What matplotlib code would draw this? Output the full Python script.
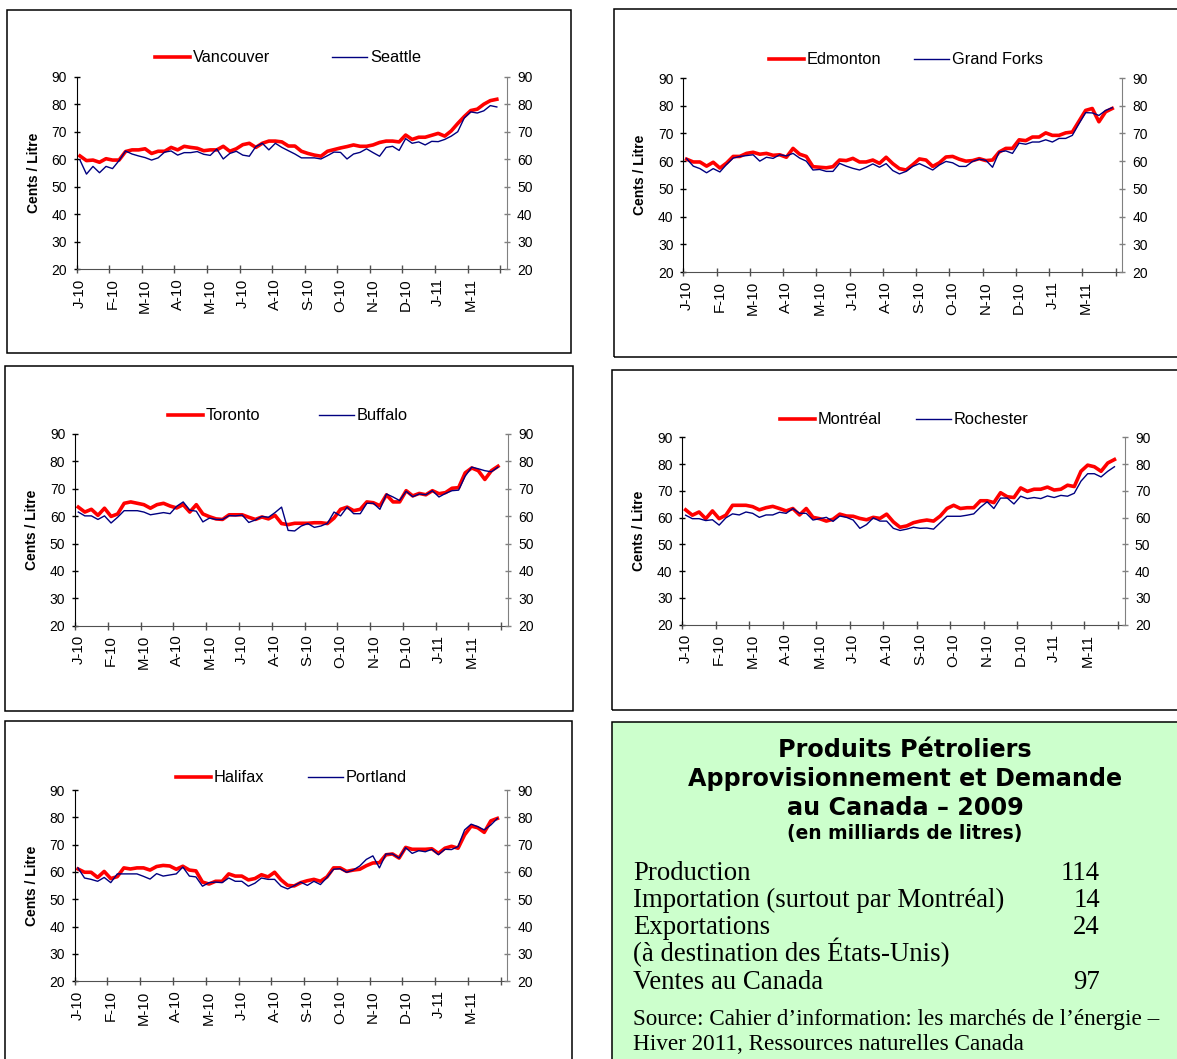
import numpy as np
import matplotlib
matplotlib.use('Agg')
from matplotlib import pyplot as plt
from matplotlib.lines import Line2D
from matplotlib.patches import Rectangle

plt.rcParams['font.family'] = ['Liberation Sans', 'DejaVu Sans']

# weekly prices, cents / litre, Jan 2010 - end of Mar 2011 (65 weeks)
vancouver = [61.2, 59.5, 59.7, 58.9, 60.2, 59.7, 59.7, 62.8, 63.4, 63.4,
             63.8, 62.1, 62.9, 62.9, 64.3, 63.4, 64.7, 64.3, 64.0, 63.1,
             63.4, 63.4, 64.7, 62.9, 63.8, 65.3, 65.8, 64.3, 65.8, 66.6,
             66.6, 66.3, 64.8, 64.8, 62.9, 62.1, 61.5, 61.1, 62.9, 63.5,
             64.1, 64.6, 65.2, 64.7, 64.7, 65.2, 66.1, 66.6, 66.6, 66.3,
             68.8, 67.2, 68.0, 68.0, 68.7, 69.4, 68.4, 70.3, 73.0, 75.5,
             77.7, 78.2, 80.0, 81.3, 81.8]
seattle = [59.7, 54.6, 57.4, 55.1, 57.4, 56.6, 59.5, 63.0, 61.9, 61.2,
           60.6, 59.7, 60.5, 62.6, 63.0, 61.5, 62.4, 62.4, 62.8, 61.8,
           61.4, 63.7, 60.1, 62.1, 62.9, 61.5, 61.1, 64.6, 65.8, 63.4,
           65.8, 64.3, 63.1, 61.9, 60.5, 60.5, 60.5, 60.1, 61.3, 62.6,
           62.5, 60.1, 61.9, 62.5, 63.8, 62.4, 61.1, 64.3, 64.7, 63.2,
           67.5, 65.8, 66.3, 65.2, 66.5, 66.4, 67.2, 68.4, 70.0, 75.0,
           77.2, 76.8, 77.6, 79.5, 79.0]
edmonton = [60.7, 59.7, 59.7, 58.2, 59.6, 57.5, 59.3, 61.7, 61.7, 62.8,
            63.2, 62.5, 62.8, 62.1, 62.3, 61.4, 64.6, 62.5, 61.7, 58.0,
            57.8, 57.6, 58.0, 60.4, 60.2, 61.0, 59.7, 59.7, 60.4, 59.2,
            61.4, 59.1, 57.3, 56.8, 58.7, 60.8, 60.4, 58.1, 59.4, 61.5,
            61.7, 60.7, 60.0, 60.2, 60.9, 60.2, 60.4, 63.3, 64.6, 64.6,
            67.7, 67.4, 68.7, 68.7, 70.2, 69.3, 69.3, 70.2, 70.5, 74.4,
            78.3, 79.0, 74.2, 77.8, 79.0]
grand_forks = [60.9, 58.2, 57.3, 55.8, 57.3, 56.1, 58.8, 61.1, 61.7, 62.0,
               62.3, 60.0, 61.4, 61.0, 62.3, 61.9, 62.8, 61.1, 60.0, 56.8,
               57.0, 56.3, 56.3, 59.2, 58.2, 57.4, 56.8, 57.8, 59.0, 57.8,
               59.1, 56.6, 55.4, 56.3, 58.1, 59.1, 58.0, 56.8, 58.6, 59.9,
               59.4, 58.1, 58.1, 59.9, 60.7, 60.3, 57.8, 63.3, 63.7, 62.8,
               66.5, 66.1, 66.9, 66.9, 67.7, 66.9, 68.2, 68.2, 69.3, 73.5,
               77.5, 77.4, 76.5, 78.3, 79.3]
toronto = [63.3, 61.5, 62.5, 60.3, 62.9, 59.9, 60.8, 64.7, 65.2, 64.7,
           64.2, 62.9, 64.2, 64.7, 63.7, 63.0, 64.2, 61.5, 64.2, 60.8,
           59.8, 59.0, 58.8, 60.5, 60.5, 60.5, 59.6, 58.8, 59.7, 59.0,
           60.3, 57.3, 56.9, 57.4, 57.4, 57.4, 57.6, 57.6, 57.3, 59.3,
           62.5, 63.3, 62.0, 62.5, 65.2, 64.9, 63.8, 67.8, 65.2, 65.2,
           69.3, 67.4, 68.3, 67.8, 69.3, 68.2, 68.6, 70.2, 70.4, 75.8,
           77.6, 76.6, 73.4, 76.6, 78.2]
buffalo = [61.5, 60.1, 60.1, 58.8, 60.1, 57.5, 59.6, 62.0, 62.0, 62.0,
           61.5, 60.5, 60.9, 61.3, 60.9, 63.6, 65.2, 62.2, 61.8, 57.9,
           59.3, 58.8, 58.8, 60.2, 60.1, 60.4, 57.7, 58.6, 59.9, 59.6,
           61.3, 63.3, 54.8, 54.6, 56.4, 57.3, 55.9, 56.4, 57.4, 61.5,
           60.1, 63.3, 60.9, 60.9, 64.7, 64.7, 62.5, 68.1, 67.0, 65.7,
           69.1, 67.1, 68.1, 67.8, 69.3, 67.0, 68.3, 69.3, 69.5, 74.6,
           77.9, 77.3, 76.6, 76.2, 77.9]
montreal = [62.9, 60.9, 62.1, 59.6, 62.5, 59.6, 60.9, 64.6, 64.6, 64.6,
            64.1, 62.9, 63.7, 64.2, 63.4, 62.5, 63.4, 61.0, 63.4, 60.1,
            59.6, 58.7, 59.4, 61.3, 60.6, 60.5, 59.7, 59.2, 60.1, 59.7,
            61.3, 58.4, 56.4, 56.9, 58.1, 58.7, 59.1, 58.7, 60.6, 63.4,
            64.6, 63.4, 63.7, 63.7, 66.3, 66.3, 65.6, 69.3, 67.8, 67.5,
            71.1, 69.8, 70.6, 70.6, 71.4, 70.3, 70.6, 72.1, 71.6, 77.3,
            79.6, 79.0, 77.3, 80.4, 81.7]
rochester = [60.9, 59.6, 59.6, 58.9, 59.2, 57.2, 59.9, 61.4, 61.0, 62.1,
             61.6, 60.1, 61.0, 61.0, 62.0, 61.6, 63.4, 61.6, 61.6, 59.1,
             59.6, 60.1, 58.6, 60.6, 60.1, 59.1, 56.0, 57.4, 59.9, 58.7,
             58.7, 56.0, 55.2, 55.7, 56.4, 56.0, 56.1, 55.7, 58.1, 60.5,
             60.5, 60.5, 60.9, 61.4, 63.9, 65.9, 63.4, 67.3, 67.3, 65.1,
             68.0, 67.1, 67.5, 67.1, 68.1, 67.5, 68.3, 68.0, 69.1, 73.6,
             76.4, 76.4, 75.2, 77.3, 79.0]
halifax = [61.1, 59.9, 59.9, 58.0, 60.2, 57.6, 58.3, 61.5, 61.1, 61.5,
           61.5, 60.7, 62.0, 62.4, 62.2, 61.0, 62.1, 60.7, 60.4, 56.3,
           55.6, 56.6, 56.6, 59.3, 58.5, 58.5, 57.1, 57.6, 59.0, 58.2,
           59.9, 57.1, 55.1, 54.9, 56.1, 56.8, 57.3, 56.6, 58.2, 61.5,
           61.5, 60.2, 60.7, 61.0, 62.3, 63.3, 63.4, 66.3, 66.6, 65.1,
           69.0, 68.3, 68.3, 68.3, 68.5, 66.8, 68.7, 69.4, 68.7, 73.6,
           76.8, 76.2, 74.5, 78.7, 79.6]
portland = [61.5, 57.8, 57.3, 56.6, 58.0, 56.1, 59.3, 59.3, 59.3, 59.3,
            58.4, 57.4, 59.4, 58.5, 58.9, 59.3, 61.8, 58.5, 58.2, 54.8,
            56.1, 56.3, 56.1, 57.8, 56.6, 56.6, 54.8, 55.9, 57.8, 57.3,
            57.3, 54.8, 53.8, 55.0, 56.3, 55.1, 56.6, 55.4, 58.0, 61.0,
            61.2, 59.9, 60.7, 62.2, 64.6, 65.9, 61.5, 66.6, 66.6, 65.1,
            68.9, 66.8, 67.8, 67.4, 68.3, 66.3, 68.3, 68.2, 69.3, 75.4,
            77.5, 76.6, 75.4, 77.2, 79.6]

month_labels = ['J-10', 'F-10', 'M-10', 'A-10', 'M-10', 'J-10', 'A-10',
                'S-10', 'O-10', 'N-10', 'D-10', 'J-11', 'M-11']
n_categories = 66   # one empty category at the end of the axis

table_title = ['Produits Pétroliers', 'Approvisionnement et Demande',
               'au Canada – 2009']
table_subtitle = '(en milliards de litres)'
table_rows = ['Production', 'Importation (surtout par Montréal)',
              'Exportations', '(à destination des États-Unis)',
              'Ventes au Canada']
table_values = ['114', '14', '24', '', '97']
table_source = ['Source: Cahier d’information: les marchés de l’énergie –',
                'Hiver 2011, Ressources naturelles Canada']

W, H = 1177, 1059
RED = '#FF0000'
BLUE = '#000080'

# pixel layout: frame box, plot area (left, top, right, bottom),
# legend left/middle point and gap between the two legend entries
panels = [
    (vancouver, seattle, ('Vancouver', 'Seattle'),
     (7, 10, 571, 353), (76.7, 76.7, 506.6, 269.3), (155, 58, 62)),
    (edmonton, grand_forks, ('Edmonton', 'Grand Forks'),
     (614, 9, 1200, 357), (683.3, 78, 1122.2, 272), (769, 60, 32)),
    (toronto, buffalo, ('Toronto', 'Buffalo'),
     (5, 366, 573, 711), (75, 434, 507.8, 625.7), (168, 416, 58)),
    (montreal, rochester, ('Montréal', 'Rochester'),
     (612, 370, 1200, 710), (682.3, 437.3, 1124.5, 624.7), (780, 420, 34)),
    (halifax, portland, ('Halifax', 'Portland'),
     (5, 721, 572, 1075), (74.7, 790, 507.2, 981.3), (176, 778, 43)),
]

LEG_FS = 11.8
LEG_PX = LEG_FS * 100 / 72


def fig_box(x0, y0, x1, y1):
    return [x0 / W, 1 - y1 / H, (x1 - x0) / W, (y1 - y0) / H]


fig = plt.figure(figsize=(W / 100, H / 100), dpi=100)

for canada, us, names, box, area, leg in panels:
    bx = fig_box(*box)
    fig.add_artist(Rectangle((bx[0], bx[1]), bx[2], bx[3], transform=fig.transFigure,
                             fill=False, edgecolor='black', lw=1.1))

    ax = fig.add_axes(fig_box(*area))
    weeks = np.arange(len(canada)) + 0.5
    ax.plot(weeks, canada, color=RED, lw=2.6, solid_joinstyle='round')
    ax.plot(weeks, us, color=BLUE, lw=1.0)
    ax.set_xlim(0, n_categories)
    ax.set_ylim(20, 90)
    ax.set_yticks(range(20, 91, 10))
    ax.set_xticks(np.arange(0, n_categories, 5))
    ax.set_xticklabels([])
    ax.set_xticks(np.arange(0, 5 * len(month_labels), 5) + 0.5, minor=True)
    ax.set_xticklabels(month_labels, minor=True, rotation=90, fontsize=10.8)
    ax.tick_params(axis='x', which='major', direction='inout', length=6,
                   color='#505050', width=1)
    ax.tick_params(axis='x', which='minor', length=0, pad=6.5)
    ax.tick_params(axis='y', direction='inout', length=5, width=1,
                   labelsize=10, pad=4.5)
    for s in ('top', 'right'):
        ax.spines[s].set_visible(False)
    ax.spines['left'].set_color('black')
    ax.spines['bottom'].set_color('#505050')

    ax2 = ax.twinx()
    ax2.set_ylim(20, 90)
    ax2.set_yticks(range(20, 91, 10))
    for s in ('top', 'left', 'bottom'):
        ax2.spines[s].set_visible(False)
    ax2.spines['right'].set_color('#808080')
    ax2.tick_params(axis='y', direction='inout', length=5, width=1,
                    color='#808080', labelsize=10, pad=5)

    fig.text((area[0] - 43) / W, 1 - (area[1] + area[3]) / 2 / H, 'Cents / Litre',
             rotation=90, ha='center', va='center', fontsize=10, weight='bold')

    handles = [Line2D([], [], color=RED, lw=2.6), Line2D([], [], color=BLUE, lw=1.0)]
    fig.legend(handles, names, loc='center left',
               bbox_to_anchor=(leg[0] / W, 1 - leg[1] / H),
               ncol=2, frameon=False, fontsize=LEG_FS, handlelength=35 / LEG_PX,
               handletextpad=3 / LEG_PX, columnspacing=leg[2] / LEG_PX,
               borderpad=0, borderaxespad=0)

# summary table box
tb = fig_box(612, 722, 1200, 1075)
fig.add_artist(Rectangle((tb[0], tb[1]), tb[2], tb[3], transform=fig.transFigure,
                         facecolor='#CCFFCC', edgecolor='black', lw=1.1))
for i, line in enumerate(table_title):
    fig.text(905 / W, 1 - (750 + 29 * i) / H, line, ha='center', va='center',
             family='DejaVu Sans', weight='bold', fontsize=17.2)
fig.text(905 / W, 1 - 834 / H, table_subtitle, ha='center', va='center',
         family='DejaVu Sans', weight='bold', fontsize=13.4)
for i, (row, val) in enumerate(zip(table_rows, table_values)):
    y = 1 - (880 + 27.2 * i) / H
    fig.text(633 / W, y, row, ha='left', va='baseline', family='Liberation Serif',
             fontsize=19.3)
    if val:
        fig.text(1100 / W, y, val, ha='right', va='baseline', family='Liberation Serif',
                 fontsize=19.3)
for i, line in enumerate(table_source):
    fig.text(633 / W, 1 - (1025 + 25 * i) / H, line, ha='left', va='baseline',
             family='Liberation Serif', fontsize=16.7)

fig.savefig('out.png', dpi=100)
